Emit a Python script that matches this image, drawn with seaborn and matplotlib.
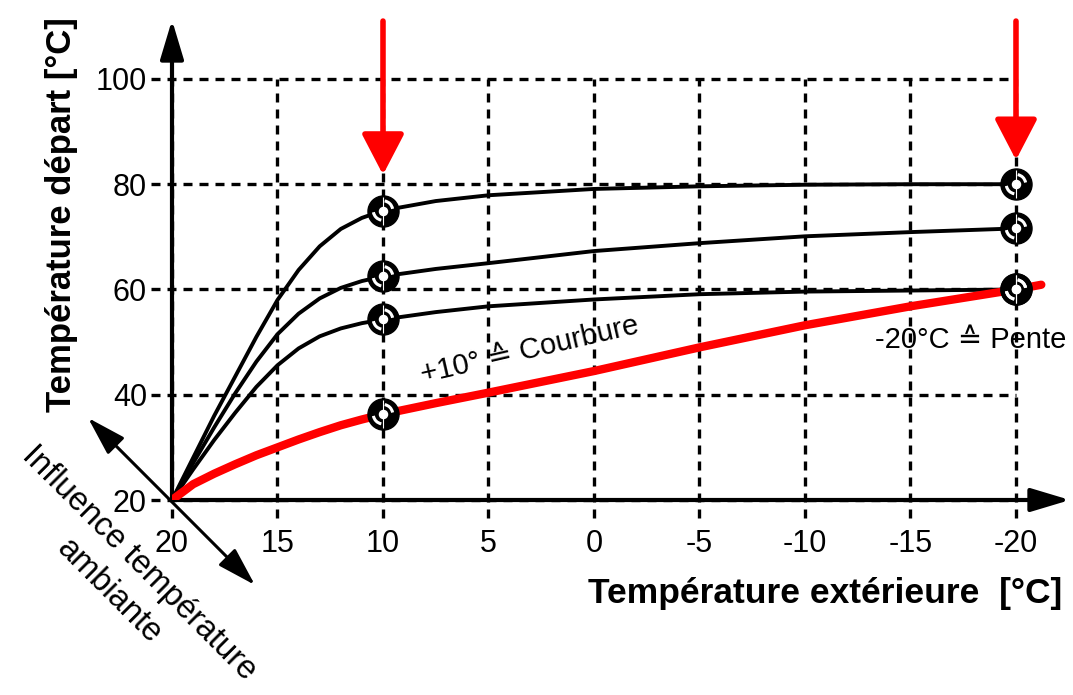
import pandas as pd
import matplotlib
matplotlib.use("Agg")
import matplotlib.pyplot as plt
import matplotlib.path as mpath
import seaborn as sns

# courbes de chauffe
temp_ext = [20, 19, 18, 17, 16, 15, 14, 13, 12, 11, 10, 7.5, 5, 0, -5, -10, -15, -20]
courbe_haute = [20, 28, 36, 43.5, 51, 58, 63.7, 68.2, 71.5, 73.6, 75, 76.8, 77.9, 79.1, 79.6, 79.9, 80, 80]
courbe_moyenne = [20, 27, 33.8, 40.3, 46.3, 51.5, 55.4, 58.3, 60.3, 61.6, 62.5, 63.9, 65.0, 67.3, 68.8, 70.1, 70.9, 71.6]
courbe_basse = [20, 25.8, 31.4, 36.6, 41.5, 45.6, 48.8, 51.1, 52.6, 53.6, 54.3, 55.7, 56.8, 58.1, 59.1, 59.6, 59.8, 60]
temp_ext_rouge = [20, 19, 18, 17, 16, 15, 14, 13, 12, 11, 10, 7.5, 5, 0, -5, -10, -15, -20, -21.2]
courbe_rouge = [20, 23, 25, 26.8, 28.5, 30, 31.5, 32.9, 34.2, 35.3, 36.3, 38.4, 40.4, 44.5, 49, 53.2, 56.8, 60, 60.9]

temp_reperes = [10, -20]
fleches_x = [10, -20]
fleches_pointe = [81.8, 84.6]

x_ticks = [20, 15, 10, 5, 0, -5, -10, -15, -20]
x_labels = ["20", "15", "10", "5", "0", "-5", "-10", "-15", "-20"]
y_ticks = [20, 40, 60, 80, 100]
y_labels = ["20", "40", "60", "80", "100"]

noires = pd.DataFrame({
    "temp": temp_ext * 3,
    "depart": courbe_haute + courbe_moyenne + courbe_basse,
    "courbe": ["haute"] * len(temp_ext) + ["moyenne"] * len(temp_ext) + ["basse"] * len(temp_ext),
})
rouge = pd.DataFrame({"temp": temp_ext_rouge, "depart": courbe_rouge})

sns.set_style("white")
plt.rcParams["font.family"] = ["Liberation Sans", "DejaVu Sans"]
plt.rcParams.update({"text.color": "black", "xtick.color": "black",
                     "ytick.color": "black", "axes.labelcolor": "black"})

fig = plt.figure(figsize=(10.73, 6.95), dpi=100)
ax = fig.add_axes([172 / 1073, 195 / 695, 898 / 1073, 480 / 695])
ax.set_xlim(20, -22.56)
ax.set_ylim(20, 111.2)
for s in ax.spines.values():
    s.set_visible(False)

# quadrillage en tirets
dash = (0, (2.7, 2.1))
ax.hlines(y_ticks, 21, -20, colors="black", lw=2.4, linestyles=[dash], zorder=1, clip_on=False)
ax.vlines(x_ticks, 16.6, 100, colors="black", lw=2.4, linestyles=[dash], zorder=1, clip_on=False)

ax.set_xticks(x_ticks, labels=x_labels)
ax.set_yticks(y_ticks, labels=y_labels)
ax.tick_params(axis="both", length=0, labelsize=22, labelcolor="black")
ax.tick_params(axis="x", pad=21)
ax.tick_params(axis="y", pad=18)

sns.lineplot(data=noires, x="temp", y="depart", units="courbe", estimator=None,
             color="black", lw=2.8, ax=ax, zorder=3)
sns.lineplot(data=rouge, x="temp", y="depart", estimator=None, color="red", lw=6, ax=ax, zorder=4)
ax.set_xlabel("")
ax.set_ylabel("")

# repères aux points +10 et -20
pts = pd.concat([noires, rouge])
pts = pts[pts["temp"].isin(temp_reperes)]
ax.scatter(pts["temp"], pts["depart"], s=500, c="black", zorder=5)
for arc in [mpath.Path.arc(10, 80), mpath.Path.arc(190, 260)]:
    ax.scatter(pts["temp"], pts["depart"], marker=arc, s=190, facecolors="none",
               edgecolors="white", linewidths=2.2, zorder=6)
ax.scatter(pts["temp"], pts["depart"], marker="|", s=400, c="white", linewidths=0.8, zorder=6)
ax.scatter(pts["temp"], pts["depart"], s=34, c="white", zorder=7)

# axes fléchés
axe = dict(arrowstyle="-|>,head_length=1.2,head_width=0.36", color="black", lw=3,
           shrinkA=0, shrinkB=0, mutation_scale=20)
ax.annotate("", xy=(0, 1), xytext=(0, 0), xycoords="axes fraction", arrowprops=axe, zorder=2)
ax.annotate("", xy=(1, 0), xytext=(0, 0), xycoords="axes fraction", arrowprops=axe, zorder=2)

# flèches rouges
for x0, y_tip in zip(fleches_x, fleches_pointe):
    ax.annotate("", xy=(x0, y_tip), xytext=(x0, 111.0), annotation_clip=False,
                arrowprops=dict(arrowstyle="-|>,head_length=1.25,head_width=0.65", color="red",
                                lw=4, shrinkA=0, shrinkB=0, mutation_scale=20))

# influence température ambiante
ax.annotate("", xy=(16.07, 3.85), xytext=(23.98, 35.6), annotation_clip=False,
            arrowprops=dict(arrowstyle="<|-|>,head_length=1.2,head_width=0.36", color="black",
                            lw=2.2, shrinkA=0, shrinkB=0, mutation_scale=20))
ax.text(21.56, 8.0, "Influence température", rotation=-45, rotation_mode="anchor",
        ha="center", va="center", fontsize=23.5, clip_on=False)
ax.text(23.0, 2.6, "ambiante", rotation=-45, rotation_mode="anchor",
        ha="center", va="center", fontsize=23.5, clip_on=False)

ax.text(3.03, 48.5, "+10° \u2259 Courbure", rotation=13, rotation_mode="anchor",
        ha="center", va="center", fontsize=21)
ax.text(-17.87, 50.4, "-20°C \u2259 Pente", ha="center", va="center", fontsize=21)

ax.text(-0.1236, 0.594, "Température départ [°C]", transform=ax.transAxes, rotation=90,
        ha="center", va="center", fontsize=25, fontweight="bold")
ax.text(0.727, -0.194, "Température extérieure  [°C]", transform=ax.transAxes,
        ha="center", va="center", fontsize=25.5, fontweight="bold")

fig.savefig("out.png", dpi=100)
